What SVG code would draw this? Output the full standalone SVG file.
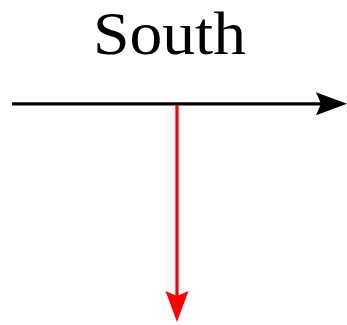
<svg xmlns="http://www.w3.org/2000/svg" width="347" height="325" viewBox="0 0 347 325">
  <style>
    .label { font-family: "Liberation Serif", "DejaVu Serif", serif; font-size: 62px; fill: #000; }
    .edge { fill: none; stroke-width: 3.2; }
  </style>
  <defs>
    <marker id="headBlack" viewBox="0 0 31 24" markerWidth="31" markerHeight="24" refX="5" refY="12" orient="auto" markerUnits="userSpaceOnUse">
      <path d="M31,12 L0,0.5 L5,12 L0,23.5 Z" fill="#000"/>
    </marker>
    <marker id="headRed" viewBox="0 0 31 24" markerWidth="31" markerHeight="24" refX="5" refY="12" orient="auto" markerUnits="userSpaceOnUse">
      <path d="M31,12 L0,0.5 L5,12 L0,23.5 Z" fill="#ff0000"/>
    </marker>
  </defs>
  <g id="title">
    <text class="label" x="169.5" y="54" text-anchor="middle" textLength="153" lengthAdjust="spacingAndGlyphs">South</text>
  </g>
  <g id="connectors">
    <line class="edge" x1="12" y1="103.8" x2="321" y2="103.8" stroke="#000" marker-end="url(#headBlack)"/>
    <line class="edge" x1="177" y1="105" x2="177" y2="296" stroke="#ff0000" marker-end="url(#headRed)"/>
  </g>
</svg>
